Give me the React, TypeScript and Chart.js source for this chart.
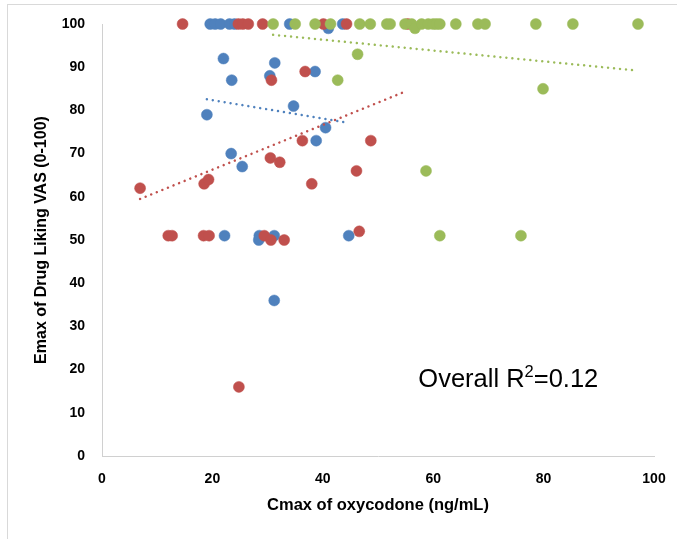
import React, { useEffect, useRef } from "react";
import { Chart, registerables } from "chart.js";

Chart.register(...registerables);

const FONT = "'Liberation Sans', Arial, sans-serif";

// Series 1 (blue)
const blueX = [19.6, 20.5, 21.5, 23.1, 24.0, 34.0, 41.0, 43.6, 22.0, 31.3, 23.5, 30.4, 19.0, 34.7, 40.5, 38.6, 23.4, 25.4, 38.8, 22.2, 28.5, 28.4, 31.2, 31.2, 44.7];
const blueY = [100, 100, 100, 100, 100, 100, 99, 100, 92, 91, 87, 88, 79, 81, 76, 89, 70, 67, 73, 51, 51, 50, 51, 36, 51];

// Series 2 (red)
const redX = [14.6, 24.7, 25.5, 26.5, 29.1, 40.1, 44.3, 55.4, 30.7, 36.8, 6.9, 18.5, 19.3, 30.5, 32.2, 36.3, 48.7, 46.1, 38.0, 12.0, 12.7, 18.4, 19.4, 29.4, 30.6, 33.0, 46.6, 24.8];
const redY = [100, 100, 100, 100, 100, 100, 100, 100, 87, 89, 62, 63, 64, 69, 68, 73, 73, 66, 63, 51, 51, 51, 51, 51, 50, 50, 52, 16];

// Series 3 (green)
const greenX = [31.0, 35.0, 38.6, 41.4, 46.7, 48.6, 51.6, 52.2, 54.9, 56.1, 56.7, 57.9, 59.1, 60.0, 60.6, 61.2, 64.1, 68.1, 69.4, 78.6, 85.3, 97.1, 46.3, 42.7, 79.9, 58.7, 61.2, 75.9];
const greenY = [100, 100, 100, 100, 100, 100, 100, 100, 100, 100, 99, 100, 100, 100, 100, 100, 100, 100, 100, 100, 100, 100, 93, 87, 85, 66, 51, 51];

// Linear trend lines (endpoints)
const blueTrendX = [19.0, 44.2];
const blueTrendY = [82.6, 77.2];
const redTrendX = [6.9, 55.2];
const redTrendY = [59.5, 84.5];
const greenTrendX = [31.0, 96.3];
const greenTrendY = [97.5, 89.3];

const X_TICK_STEP = 20;
const Y_TICK_STEP = 10;
const AXIS_MIN = 0;
const AXIS_MAX = 100;

const X_TITLE = "Cmax of oxycodone (ng/mL)";
const Y_TITLE = "Emax of Drug Liking VAS (0-100)";
const ANNOT_MAIN = "Overall R";
const ANNOT_SUP = "2";
const ANNOT_TAIL = "=0.12";
const ANNOT_X = 57.3;
const ANNOT_Y = 16;

const BLUE = "#4F81BD";
const RED = "#C0504D";
const GREEN = "#9BBB59";

const pts = (xs: number[], ys: number[]) => xs.map((x, i) => ({ x, y: ys[i] }));

const annotationPlugin = {
  id: "r2annot",
  afterDatasetsDraw(chart: any) {
    const { ctx, scales } = chart;
    const px = scales.x.getPixelForValue(ANNOT_X);
    const py = scales.y.getPixelForValue(ANNOT_Y);
    ctx.save();
    ctx.fillStyle = "#000";
    ctx.textAlign = "left";
    ctx.textBaseline = "alphabetic";
    ctx.font = `25.5px ${FONT}`;
    ctx.fillText(ANNOT_MAIN, px, py);
    let w = ctx.measureText(ANNOT_MAIN).width;
    ctx.font = `16.5px ${FONT}`;
    ctx.fillText(ANNOT_SUP, px + w, py - 10);
    w += ctx.measureText(ANNOT_SUP).width;
    ctx.font = `25.5px ${FONT}`;
    ctx.fillText(ANNOT_TAIL, px + w, py);
    ctx.restore();
  },
};

const scatterSet = (data: any[], color: string, order: number) => ({
  type: "scatter" as const,
  data,
  backgroundColor: color,
  borderColor: color,
  borderWidth: 0.5,
  pointRadius: 5.5,
  pointHoverRadius: 5.5,
  showLine: false,
  order,
});

const trendSet = (data: any[], color: string) => ({
  type: "line" as const,
  data,
  borderColor: color,
  borderWidth: 2.5,
  borderDash: [0.01, 6],
  borderCapStyle: "round" as const,
  pointRadius: 0,
  fill: false,
  order: 0,
});

export default function App() {
  const ref = useRef<HTMLCanvasElement | null>(null);

  useEffect(() => {
    if (!ref.current) return;
    const chart = new Chart(ref.current, {
      type: "scatter",
      data: {
        datasets: [
          scatterSet(pts(blueX, blueY), BLUE, 3),
          scatterSet(pts(redX, redY), RED, 2),
          scatterSet(pts(greenX, greenY), GREEN, 1),
          trendSet(pts(blueTrendX, blueTrendY), BLUE),
          trendSet(pts(redTrendX, redTrendY), RED),
          trendSet(pts(greenTrendX, greenTrendY), GREEN),
        ] as any,
      },
      options: {
        responsive: false,
        animation: false,
        events: [],
        clip: false as any,
        layout: { padding: { left: 0, right: 23, top: 24, bottom: 0 } },
        plugins: {
          legend: { display: false },
          tooltip: { enabled: false },
        },
        scales: {
          x: {
            type: "linear",
            min: AXIS_MIN,
            max: AXIS_MAX,
            grid: { display: false, drawTicks: false },
            border: { display: true, color: "#d0d0d0", width: 1 },
            ticks: {
              stepSize: X_TICK_STEP,
              color: "#000",
              font: { family: FONT, size: 14, weight: "bold" },
              padding: 15,
            },
            title: {
              display: true,
              text: X_TITLE,
              color: "#000",
              font: { family: FONT, size: 16.5, weight: "bold" },
              padding: { top: 0, bottom: 24 },
            },
            afterFit: (s: any) => {
              s.height = 83;
              s.paddingLeft = 0;
              s.paddingRight = 0;
            },
          },
          y: {
            type: "linear",
            min: AXIS_MIN,
            max: AXIS_MAX,
            grid: { display: false, drawTicks: false },
            border: { display: true, color: "#d0d0d0", width: 1 },
            ticks: {
              stepSize: Y_TICK_STEP,
              color: "#000",
              font: { family: FONT, size: 14, weight: "bold" },
              padding: 17,
            },
            title: {
              display: true,
              text: Y_TITLE,
              color: "#000",
              font: { family: FONT, size: 16, weight: "bold" },
              padding: { top: 32, bottom: 0 },
            },
            afterFit: (s: any) => {
              s.width = 102;
              s.paddingTop = 0;
              s.paddingBottom = 0;
            },
          },
        },
      },
      plugins: [annotationPlugin],
    });
    return () => chart.destroy();
  }, []);

  return (
    <div
      style={{
        position: "fixed",
        left: 0,
        top: 0,
        width: 677,
        height: 539,
        overflow: "hidden",
        background: "#fff",
      }}
    >
      <div
        style={{
          position: "absolute",
          left: 7,
          top: 4,
          width: 720,
          height: 600,
          border: "1px solid #d9d9d9",
          boxSizing: "border-box",
        }}
      />
      <canvas
        ref={ref}
        width={677}
        height={539}
        style={{ position: "absolute", left: 0, top: 0, width: 677, height: 539 }}
      />
    </div>
  );
}
